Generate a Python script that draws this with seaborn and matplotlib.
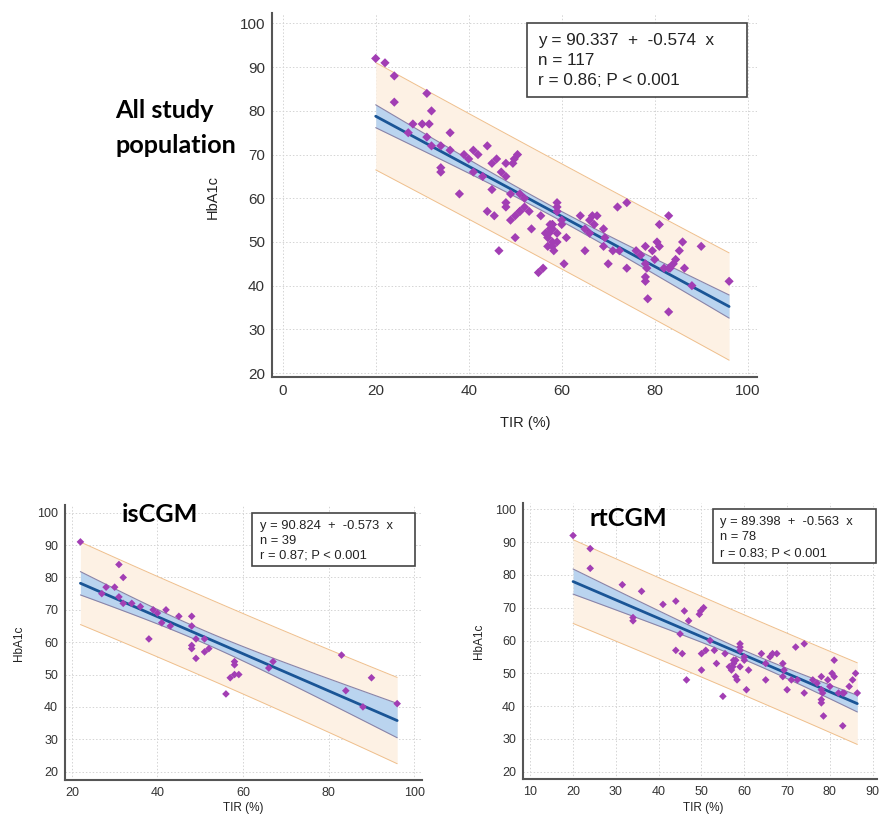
import numpy as np
import matplotlib.pyplot as plt
import seaborn as sns
from matplotlib.ticker import MultipleLocator
from matplotlib.patches import Rectangle

# isCGM group (TIR %, HbA1c)
iscgm_tir = [22, 27, 28, 30, 31, 31, 32, 32, 34, 36, 38, 39, 40, 41, 42, 43, 45, 48, 48, 48,
             48, 49, 49, 51, 51, 52, 56, 57, 58, 58, 58, 59, 66, 67, 83, 84, 88, 90, 96]
iscgm_hba1c = [91, 75, 77, 77, 84, 74, 80, 72, 72, 71, 61, 70, 69, 66, 70, 65, 68, 68, 65, 59,
               58, 61, 55, 61, 57, 58, 44, 49, 54, 53, 50, 50, 52, 54, 56, 45, 40, 49, 41]

# rtCGM group
rtcgm_tir = [20, 24, 24, 31.5, 34, 34, 36, 41, 44, 44, 45, 45.5, 46, 46.5, 47, 49.5, 49.8, 50.5,
             50, 50, 52, 53, 53.5, 55.5, 55, 56.5, 57, 57.3, 57.5, 58, 58.3, 58, 59, 59, 59, 59,
             60, 60, 60.5, 61, 64, 65, 65, 66, 66.6, 67.6, 69, 69, 69.3, 70, 71, 72, 72.4, 74, 74,
             76, 77, 78, 78, 78, 78, 78.3, 78.5, 79.5, 80, 80.5, 81, 81, 83, 83, 83.3, 84.5, 85.3,
             86, 86.4, 57.5, 82, 51]
rtcgm_hba1c = [92, 88, 82, 77, 67, 66, 75, 71, 72, 57, 62, 56, 69, 48, 66, 68, 69, 70,
               56, 51, 60, 57, 53, 56, 43, 52, 51, 52, 54, 49, 48, 54, 59, 58, 57, 52,
               55, 54, 45, 51, 56, 53, 48, 55, 56, 56, 53, 49, 51, 45, 48, 58, 48, 59, 44,
               48, 47, 49, 45, 42, 41, 44, 37, 48, 46, 50, 49, 54, 44, 34, 44, 46, 48,
               50, 44, 53, 44, 57]

all_tir = iscgm_tir + rtcgm_tir
all_hba1c = iscgm_hba1c + rtcgm_hba1c

box_all = ["y = 90.337  +  -0.574  x", "n = 117", "r = 0.86; P < 0.001"]
box_is = ["y = 90.824  +  -0.573  x", "n = 39", "r = 0.87; P < 0.001"]
box_rt = ["y = 89.398  +  -0.563  x", "n = 78", "r = 0.83; P < 0.001"]

PRED_FILL = '#fdf1e4'
PRED_EDGE = '#efbf8c'
CONF_FILL = '#bad4ef'
CONF_EDGE = '#8a84a8'
LINE_COL = '#1a5596'
DOT_COL = '#a23eb4'
SPINE_COL = '#555555'

sns.set_style('white')
plt.rcParams['font.family'] = ['Liberation Sans', 'DejaVu Sans']

W, H = 880, 816
fig = plt.figure(figsize=(W / 100, H / 100), dpi=100)


def px_axes(l, t, r, b):
    return fig.add_axes([l / W, 1 - b / H, (r - l) / W, (b - t) / H])


def fit_bands(x, y, t):
    x = np.asarray(x, float)
    y = np.asarray(y, float)
    n = len(x)
    slope, icpt = np.polyfit(x, y, 1)
    s = np.sqrt(np.sum((y - (icpt + slope * x)) ** 2) / (n - 2))
    xs = np.linspace(x.min(), x.max(), 100)
    yh = icpt + slope * xs
    sxx = np.sum((x - x.mean()) ** 2)
    conf = t * s * np.sqrt(1 / n + (xs - x.mean()) ** 2 / sxx)
    pred = t * s * np.sqrt(1 + 1 / n + (xs - x.mean()) ** 2 / sxx)
    return xs, yh, conf, pred


def draw_panel(ax, tir, hba1c, t, xlim, ylim, xmaj, xmin, fs, ms):
    xs, yh, conf, pred = fit_bands(tir, hba1c, t)
    ax.fill_between(xs, yh - pred, yh + pred, color=PRED_FILL, lw=0, zorder=1)
    ax.plot(xs, yh + pred, color=PRED_EDGE, lw=0.7, zorder=2)
    ax.plot(xs, yh - pred, color=PRED_EDGE, lw=0.7, zorder=2)
    ax.fill_between(xs, yh - conf, yh + conf, color=CONF_FILL, lw=0, zorder=3)
    ax.plot(xs, yh + conf, color=CONF_EDGE, lw=0.8, zorder=4)
    ax.plot(xs, yh - conf, color=CONF_EDGE, lw=0.8, zorder=4)
    ax.plot(xs, yh, color=LINE_COL, lw=2, zorder=5)
    sns.scatterplot(x=tir, y=hba1c, ax=ax, marker='D', s=ms, color=DOT_COL,
                    edgecolor='none', zorder=6)

    ax.set_xlim(*xlim)
    ax.set_ylim(*ylim)
    ax.xaxis.set_major_locator(MultipleLocator(xmaj))
    ax.xaxis.set_minor_locator(MultipleLocator(xmin))
    ax.yaxis.set_major_locator(MultipleLocator(10))
    ax.yaxis.set_minor_locator(MultipleLocator(5))
    ax.grid(True, which='major', color='#d4d4d4', linestyle=(0, (1.5, 2)), lw=0.7)
    ax.set_axisbelow(True)
    for side in ['top', 'right']:
        ax.spines[side].set_visible(False)
    for side in ['left', 'bottom']:
        ax.spines[side].set_color(SPINE_COL)
        ax.spines[side].set_linewidth(1.5)
    ax.tick_params(which='major', direction='in', length=7, width=1, color=SPINE_COL,
                   labelsize=fs, labelcolor='#333333', pad=5)
    ax.tick_params(which='minor', direction='in', length=3.5, width=0.8, color='#999999')


# top panel: all study population
ax0 = px_axes(272, 13, 757, 377)
draw_panel(ax0, all_tir, all_hba1c, 1.981, (-2.3, 102), (19.1, 102.4), 20, 10, 11, 22)
ax0.set_xlabel('TIR (%)', fontsize=10.5, color='#222222')
ax0.set_ylabel('HbA1c', fontsize=10.5, color='#222222')
ax0.xaxis.set_label_coords(0.522, -0.107)
ax0.yaxis.set_label_coords(-0.108, 0.495)

# bottom left: isCGM
ax1 = px_axes(65, 505, 422, 780)
draw_panel(ax1, iscgm_tir, iscgm_hba1c, 2.026, (18.4, 101.8), (17.4, 102.4), 20, 10, 9, 15)
ax1.set_xlabel('TIR (%)', fontsize=8.5, color='#222222')
ax1.set_ylabel('HbA1c', fontsize=8.5, color='#222222')
ax1.xaxis.set_label_coords(0.499, -0.08)
ax1.yaxis.set_label_coords(-0.112, 0.498)

# bottom right: rtCGM
ax2 = px_axes(523, 503, 877, 779)
draw_panel(ax2, rtcgm_tir, rtcgm_hba1c, 1.991, (8.3, 91), (17.8, 101.9), 10, 5, 9, 15)
ax2.set_xlabel('TIR (%)', fontsize=8.5, color='#222222')
ax2.set_ylabel('HbA1c', fontsize=8.5, color='#222222')
ax2.xaxis.set_label_coords(0.508, -0.083)
ax2.yaxis.set_label_coords(-0.108, 0.498)


def stat_box(l, t, r, b, tx, baselines, lines, fs):
    fig.patches.append(Rectangle((l / W, 1 - b / H), (r - l) / W, (b - t) / H,
                                 transform=fig.transFigure, fc='white', ec='#444444',
                                 lw=1.2, zorder=10))
    for by, line in zip(baselines, lines):
        fig.text(tx / W, 1 - by / H, line, fontsize=fs, color='#222222',
                 va='baseline', ha='left', zorder=11)


stat_box(527, 23, 747, 97, 538, [45, 65, 85], box_all, 12.3)
stat_box(252, 513, 415, 566, 260, [528.5, 543.5, 558.5], box_is, 9.3)
stat_box(713, 509, 876, 563, 720, [525, 540.5, 556], box_rt, 9.3)

title_font = dict(family=['Lato', 'DejaVu Sans'], fontweight='bold', fontsize=18.2,
                  color='black', va='baseline', ha='left')
fig.text(115 / W, 1 - 118 / H, 'All study', **title_font)
fig.text(115 / W, 1 - 153 / H, 'population', **title_font)
fig.text(122 / W, 1 - 522 / H, 'isCGM', **title_font)
fig.text(589 / W, 1 - 526 / H, 'rtCGM', **title_font)

fig.savefig('out.png', dpi=100, facecolor='white')
